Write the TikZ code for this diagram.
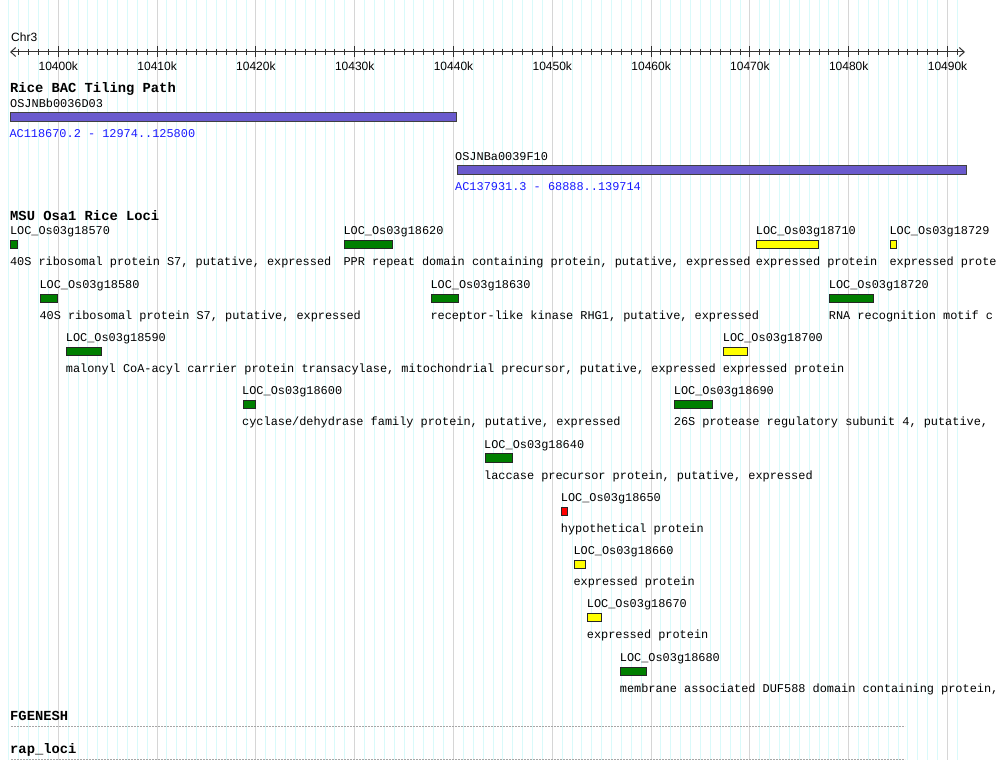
\documentclass[tikz,border=0pt]{standalone}
\usepackage{fontspec}
\setmainfont{Liberation Mono}
\newfontfamily\rulerfont{Liberation Sans}
\usetikzlibrary{arrows.meta}
\definecolor{minorgrid}{HTML}{D9FAFA}
\definecolor{majorgrid}{HTML}{D6D6D6}
\definecolor{locgreen}{HTML}{007F00}
\definecolor{bacblue}{HTML}{6A5ACD}
\definecolor{linkblue}{HTML}{1A1AFF}
\definecolor{locyellow}{HTML}{FFFF00}
\definecolor{locred}{HTML}{FF0000}
\tikzset{
  txt/.style={anchor=mid west, inner sep=0pt, yshift=-1.5pt, font=\fontsize{11.9}{13}\selectfont},
  ttl/.style={anchor=mid west, inner sep=0pt, yshift=-1.5pt, font=\fontsize{13.8}{15}\selectfont\bfseries},
  linktxt/.style={txt, text=linkblue},
  ticklbl/.style={anchor=center, inner sep=0pt, yshift=-1.5pt, font=\rulerfont\fontsize{12}{13}\selectfont},
  lbox/.style={draw=black!85, line width=1pt, anchor=west, inner sep=0pt, minimum height=8.3pt},
  bacbar/.style={draw=black!75, fill=bacblue, line width=1pt, anchor=west, inner sep=0pt, minimum height=8.5pt},
  trackline/.style={draw=black!35, line width=1pt, dash pattern=on 2pt off 1pt},
  minorline/.style={draw=minorgrid, line width=1pt},
  majorline/.style={draw=majorgrid, line width=1pt},
  rulerline/.style={draw=black!80, line width=1pt},
}
% #1 id, #2 x1, #3 x2, #4 row y, #5 colour, #6 name, #7 description
\newcommand\locus[7]{%
  \node[txt] (#1n) at (#2,#4) {#6};
  \node[lbox, fill=#5, minimum width={(#3-#2-1)*1pt}] (#1b) at (#2+0.5,#4+14) {};
  \node[txt] (#1d) at (#2,#4+31) {#7};
}
\begin{document}
\begin{tikzpicture}[x=1pt,y=-1pt]
\useasboundingbox (0,0) rectangle (998,760);
\clip (0,0) rectangle (998,760);
\fill[white] (0,0) rectangle (998,760);

% grid
\foreach \i in {0,...,96} {
  \pgfmathsetmacro\xx{8.9+\i*9.88}
  \draw[minorline] (\xx,0) -- (\xx,760);
}
\foreach \i in {0,...,9} {
  \pgfmathsetmacro\xx{58.3+\i*98.8}
  \draw[majorline] (\xx,0) -- (\xx,760);
}

% ruler
\node[anchor=mid west, inner sep=0pt, yshift=-1.5pt, font=\rulerfont\fontsize{12}{13}\selectfont] (chr) at (11,37.5) {Chr3};
\coordinate (rl) at (10,52);
\coordinate (rr) at (965,52);
\draw[rulerline, {Straight Barb[length=5pt,width=9pt,line width=1pt]}-{Straight Barb[length=5pt,width=9pt,line width=1pt]}] (rl) -- (rr);
\foreach \i in {1,...,96} {
  \pgfmathsetmacro\xx{8.9+\i*9.88}
  \draw[rulerline] (\xx,49) -- (\xx,55);
}
\foreach \i/\lab in {0/10400k,1/10410k,2/10420k,3/10430k,4/10440k,5/10450k,6/10460k,7/10470k,8/10480k,9/10490k} {
  \pgfmathsetmacro\xx{58.3+\i*98.8}
  \draw[rulerline] (\xx,46.5) -- (\xx,57.5);
  \node[ticklbl] (tick\i) at (\xx,64.5) {\lab};
}

% BAC tiling path
\node[ttl] (bactitle) at (10,88) {Rice BAC Tiling Path};
\node[txt] (bac1n) at (10,103) {OSJNBb0036D03};
\node[bacbar, minimum width=445.5pt] (bac1) at (10,116.8) {};
\node[linktxt] (bac1l) at (9.3,133) {AC118670.2 - 12974..125800};
\node[txt] (bac2n) at (455,156) {OSJNBa0039F10};
\node[bacbar, minimum width=509.5pt] (bac2) at (456.5,170) {};
\node[linktxt] (bac2l) at (455,186.7) {AC137931.3 - 68888..139714};

% MSU loci
\node[ttl] (msutitle) at (10,216) {MSU Osa1 Rice Loci};
\locus{a}{9.8}{17.7}{230.7}{locgreen}{LOC\_Os03g18570}{40S ribosomal protein S7, putative, expressed}
\locus{b}{343.3}{392}{230.7}{locgreen}{LOC\_Os03g18620}{PPR repeat domain containing protein, putative, expressed}
\locus{c}{755.7}{818.3}{230.7}{locyellow}{LOC\_Os03g18710}{expressed protein}
\locus{d}{889.3}{896.3}{230.7}{locyellow}{LOC\_Os03g18729}{expressed prote}
\locus{e}{39.3}{57}{284.5}{locgreen}{LOC\_Os03g18580}{40S ribosomal protein S7, putative, expressed}
\locus{f}{430.3}{458.7}{284.5}{locgreen}{LOC\_Os03g18630}{receptor-like kinase RHG1, putative, expressed}
\locus{g}{828.7}{873.3}{284.5}{locgreen}{LOC\_Os03g18720}{RNA recognition motif c}
\locus{h}{65.7}{101}{337.3}{locgreen}{LOC\_Os03g18590}{malonyl CoA-acyl carrier protein transacylase, mitochondrial precursor, putative, expressed}
\locus{i}{722.7}{747.7}{337.3}{locyellow}{LOC\_Os03g18700}{expressed protein}
\locus{j}{242}{255}{390.7}{locgreen}{LOC\_Os03g18600}{cyclase/dehydrase family protein, putative, expressed}
\locus{k}{673.7}{712.3}{390.7}{locgreen}{LOC\_Os03g18690}{26S protease regulatory subunit 4, putative,}
\locus{l}{484}{512.3}{444}{locgreen}{LOC\_Os03g18640}{laccase precursor protein, putative, expressed}
\locus{m}{560.7}{567.3}{497.3}{locred}{LOC\_Os03g18650}{hypothetical protein}
\locus{n}{573.3}{585}{550.3}{locyellow}{LOC\_Os03g18660}{expressed protein}
\locus{o}{586.7}{601.3}{603.5}{locyellow}{LOC\_Os03g18670}{expressed protein}
\locus{p}{619.7}{646.7}{657.3}{locgreen}{LOC\_Os03g18680}{membrane associated DUF588 domain containing protein,}

% empty tracks
\node[ttl] (fgtitle) at (10,716.3) {FGENESH};
\coordinate (fgl) at (11,726.7);
\coordinate (fgr) at (905,726.7);
\draw[trackline] (fgl) -- (fgr);
\node[ttl] (raptitle) at (10,749.5) {rap\_loci};
\coordinate (rpl) at (11,759.3);
\coordinate (rpr) at (905,759.3);
\draw[trackline] (rpl) -- (rpr);
\end{tikzpicture}
\end{document}
